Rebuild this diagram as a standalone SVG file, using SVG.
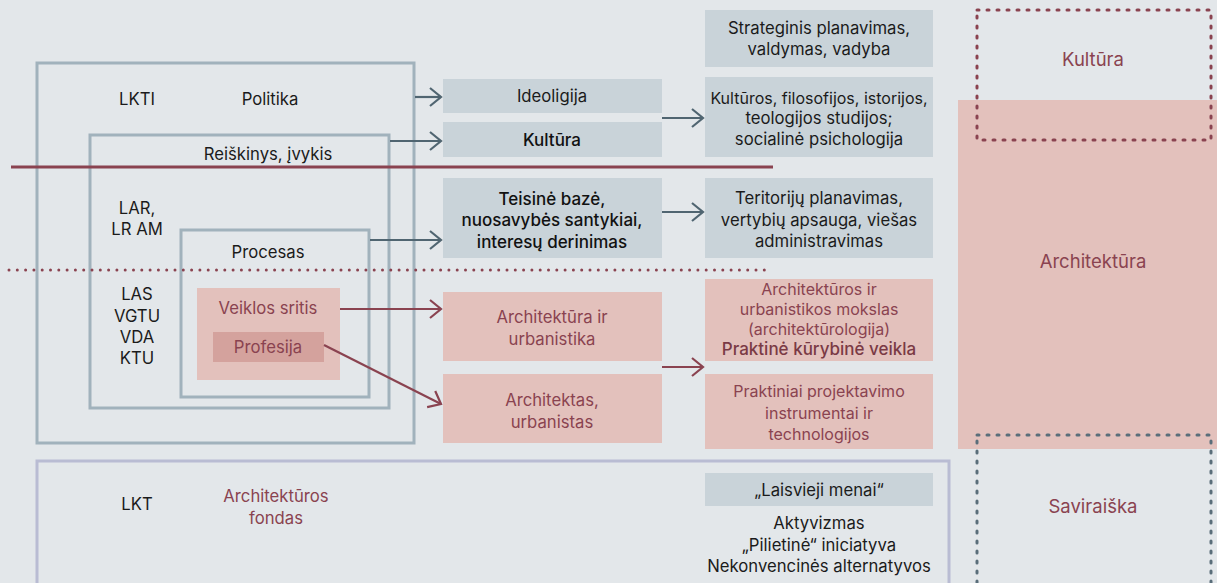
<svg xmlns="http://www.w3.org/2000/svg" width="1217" height="583" viewBox="0 0 1217 583">
<defs>
<style>
text{font-family:"Inter","Liberation Sans",sans-serif;font-size:16.7px;text-anchor:middle;fill:#1b1b1b}
.m{fill:#8a4350}
.s{font-size:16px}
.lab{font-size:18.5px}
.b{font-size:17px;font-weight:500;fill:#111}
.frame{fill:none;stroke:#a1b2bc;stroke-width:3}
.gbox{fill:#c9d3d9}
.pbox{fill:#e3c1bc}
.ca{fill:none;stroke:#506571;stroke-width:2.2}
.cm{fill:none;stroke:#8a4350;stroke-width:2.2}
</style>
<marker id="as" markerUnits="userSpaceOnUse" markerWidth="16" markerHeight="22" refX="13" refY="11" orient="auto">
<path d="M2,2 L13,11 L2,20" fill="none" stroke="#506571" stroke-width="2.2"/>
</marker>
<marker id="am" markerUnits="userSpaceOnUse" markerWidth="16" markerHeight="22" refX="13" refY="11" orient="auto">
<path d="M2,2 L13,11 L2,20" fill="none" stroke="#8a4350" stroke-width="2.2"/>
</marker>
</defs>
<rect width="1217" height="583" fill="#e3e7ea"/>

<!-- right column -->
<g id="architektura">
<rect x="958" y="100" width="259" height="349" class="pbox"/>
<text x="1093" y="268" class="m lab">Architektūra</text>
</g>
<g id="kultura-zone">
<rect x="977" y="10" width="234" height="130" fill="none" stroke="#8a4350" stroke-width="3" stroke-dasharray="2 8" stroke-linecap="round"/>
<text x="1093" y="66" class="m lab">Kultūra</text>
</g>
<g id="saviraiska">
<rect x="977" y="435" width="234" height="160" fill="none" stroke="#5a6e7a" stroke-width="3" stroke-dasharray="2 8" stroke-linecap="round"/>
<text x="1093" y="513" class="m lab">Saviraiška</text>
</g>

<!-- nested frames -->
<g id="lkti">
<rect x="37" y="63" width="377" height="380" class="frame"/>
<text x="137" y="105">LKTI</text>
<text x="270" y="105">Politika</text>
</g>
<g id="reiskinys">
<rect x="90" y="135" width="299" height="273" class="frame"/>
<text x="268" y="160">Reiškinys, įvykis</text>
<text x="137" y="214">LAR,</text>
<text x="137" y="235">LR AM</text>
<text x="137" y="300">LAS</text>
<text x="137" y="322">VGTU</text>
<text x="137" y="343">VDA</text>
<text x="137" y="364">KTU</text>
</g>
<g id="procesas">
<rect x="181" y="230" width="188" height="167" class="frame"/>
<text x="268" y="258">Procesas</text>
</g>
<g id="veiklos-sritis">
<rect x="197" y="288" width="143" height="92" class="pbox"/>
<text x="268" y="314" class="m">Veiklos sritis</text>
</g>
<g id="profesija">
<rect x="213" y="332" width="111" height="30" fill="#d4a29d"/>
<text x="268" y="353" class="m">Profesija</text>
</g>

<!-- lines -->
<g id="separators">
<line x1="11" y1="167" x2="773" y2="167" stroke="#8a4350" stroke-width="3"/>
<line x1="9" y1="270" x2="770" y2="270" stroke="#8a4350" stroke-width="3" stroke-dasharray="0 8.3" stroke-linecap="round"/>
</g>

<!-- middle boxes -->
<g id="ideoligija">
<rect x="443" y="79" width="219" height="34" class="gbox"/>
<text x="552" y="102">Ideoligija</text>
</g>
<g id="kultura">
<rect x="443" y="122" width="219" height="35" class="gbox"/>
<text x="552" y="146" class="b">Kultūra</text>
</g>
<g id="teisine">
<rect x="443" y="178" width="219" height="80" class="gbox"/>
<text x="552" y="205" class="b">Teisinė bazė,</text>
<text x="552" y="226" class="b">nuosavybės santykiai,</text>
<text x="552" y="248" class="b">interesų derinimas</text>
</g>
<g id="arch-urb">
<rect x="443" y="292" width="219" height="69" class="pbox"/>
<text x="552" y="323" class="m">Architektūra ir</text>
<text x="552" y="345" class="m">urbanistika</text>
</g>
<g id="architektas">
<rect x="443" y="374" width="219" height="69" class="pbox"/>
<text x="552" y="406" class="m">Architektas,</text>
<text x="552" y="428" class="m">urbanistas</text>
</g>

<!-- right boxes -->
<g id="strateginis">
<rect x="705" y="10" width="228" height="57" class="gbox"/>
<text x="819" y="34">Strateginis planavimas,</text>
<text x="819" y="55">valdymas, vadyba</text>
</g>
<g id="kulturos-studijos">
<rect x="705" y="77" width="228" height="80" class="gbox"/>
<text x="819" y="104" class="s">Kultūros, filosofijos, istorijos,</text>
<text x="819" y="124">teologijos studijos;</text>
<text x="819" y="145">socialinė psichologija</text>
</g>
<g id="teritoriju">
<rect x="705" y="178" width="228" height="80" class="gbox"/>
<text x="819" y="204">Teritorijų planavimas,</text>
<text x="819" y="226">vertybių apsauga, viešas</text>
<text x="819" y="247">administravimas</text>
</g>
<g id="mokslas">
<rect x="705" y="279" width="228" height="82" class="pbox"/>
<text x="819" y="295" class="m s">Architektūros ir</text>
<text x="819" y="315" class="m s">urbanistikos mokslas</text>
<text x="819" y="335" class="m s">(architektūrologija)</text>
<text x="819" y="355" class="b" style="fill:#7a3a45">Praktinė kūrybinė veikla</text>
</g>
<g id="praktiniai">
<rect x="705" y="374" width="228" height="75" class="pbox"/>
<text x="819" y="397" class="m s">Praktiniai projektavimo</text>
<text x="819" y="419" class="m s">instrumentai ir</text>
<text x="819" y="440" class="m s">technologijos</text>
</g>

<!-- bottom -->
<g id="lkt">
<rect x="37" y="461" width="912" height="140" fill="none" stroke="#b9bcd3" stroke-width="3"/>
<text x="137" y="510">LKT</text>
<text x="276" y="502" class="m">Architektūros</text>
<text x="276" y="524" class="m">fondas</text>
</g>
<g id="laisvieji">
<rect x="705" y="473" width="228" height="33" class="gbox"/>
<text x="819" y="496">„Laisvieji menai“</text>
</g>
<g id="aktyvizmas">
<text x="819" y="529">Aktyvizmas</text>
<text x="819" y="551">„Pilietinė“ iniciatyva</text>
<text x="819" y="572">Nekonvencinės alternatyvos</text>
</g>

<!-- connectors -->
<g id="connectors">
<line x1="415" y1="97" x2="441" y2="97" class="ca" marker-end="url(#as)"/>
<line x1="390" y1="141" x2="441" y2="141" class="ca" marker-end="url(#as)"/>
<line x1="370" y1="240" x2="441" y2="240" class="ca" marker-end="url(#as)"/>
<line x1="662" y1="118" x2="703" y2="118" class="ca" marker-end="url(#as)"/>
<line x1="662" y1="212" x2="703" y2="212" class="ca" marker-end="url(#as)"/>
<line x1="340" y1="309" x2="441" y2="309" class="cm" marker-end="url(#am)"/>
<line x1="324" y1="345" x2="441" y2="404" class="cm" marker-end="url(#am)"/>
<line x1="662" y1="367" x2="703" y2="367" class="cm" marker-end="url(#am)"/>
</g>
</svg>
